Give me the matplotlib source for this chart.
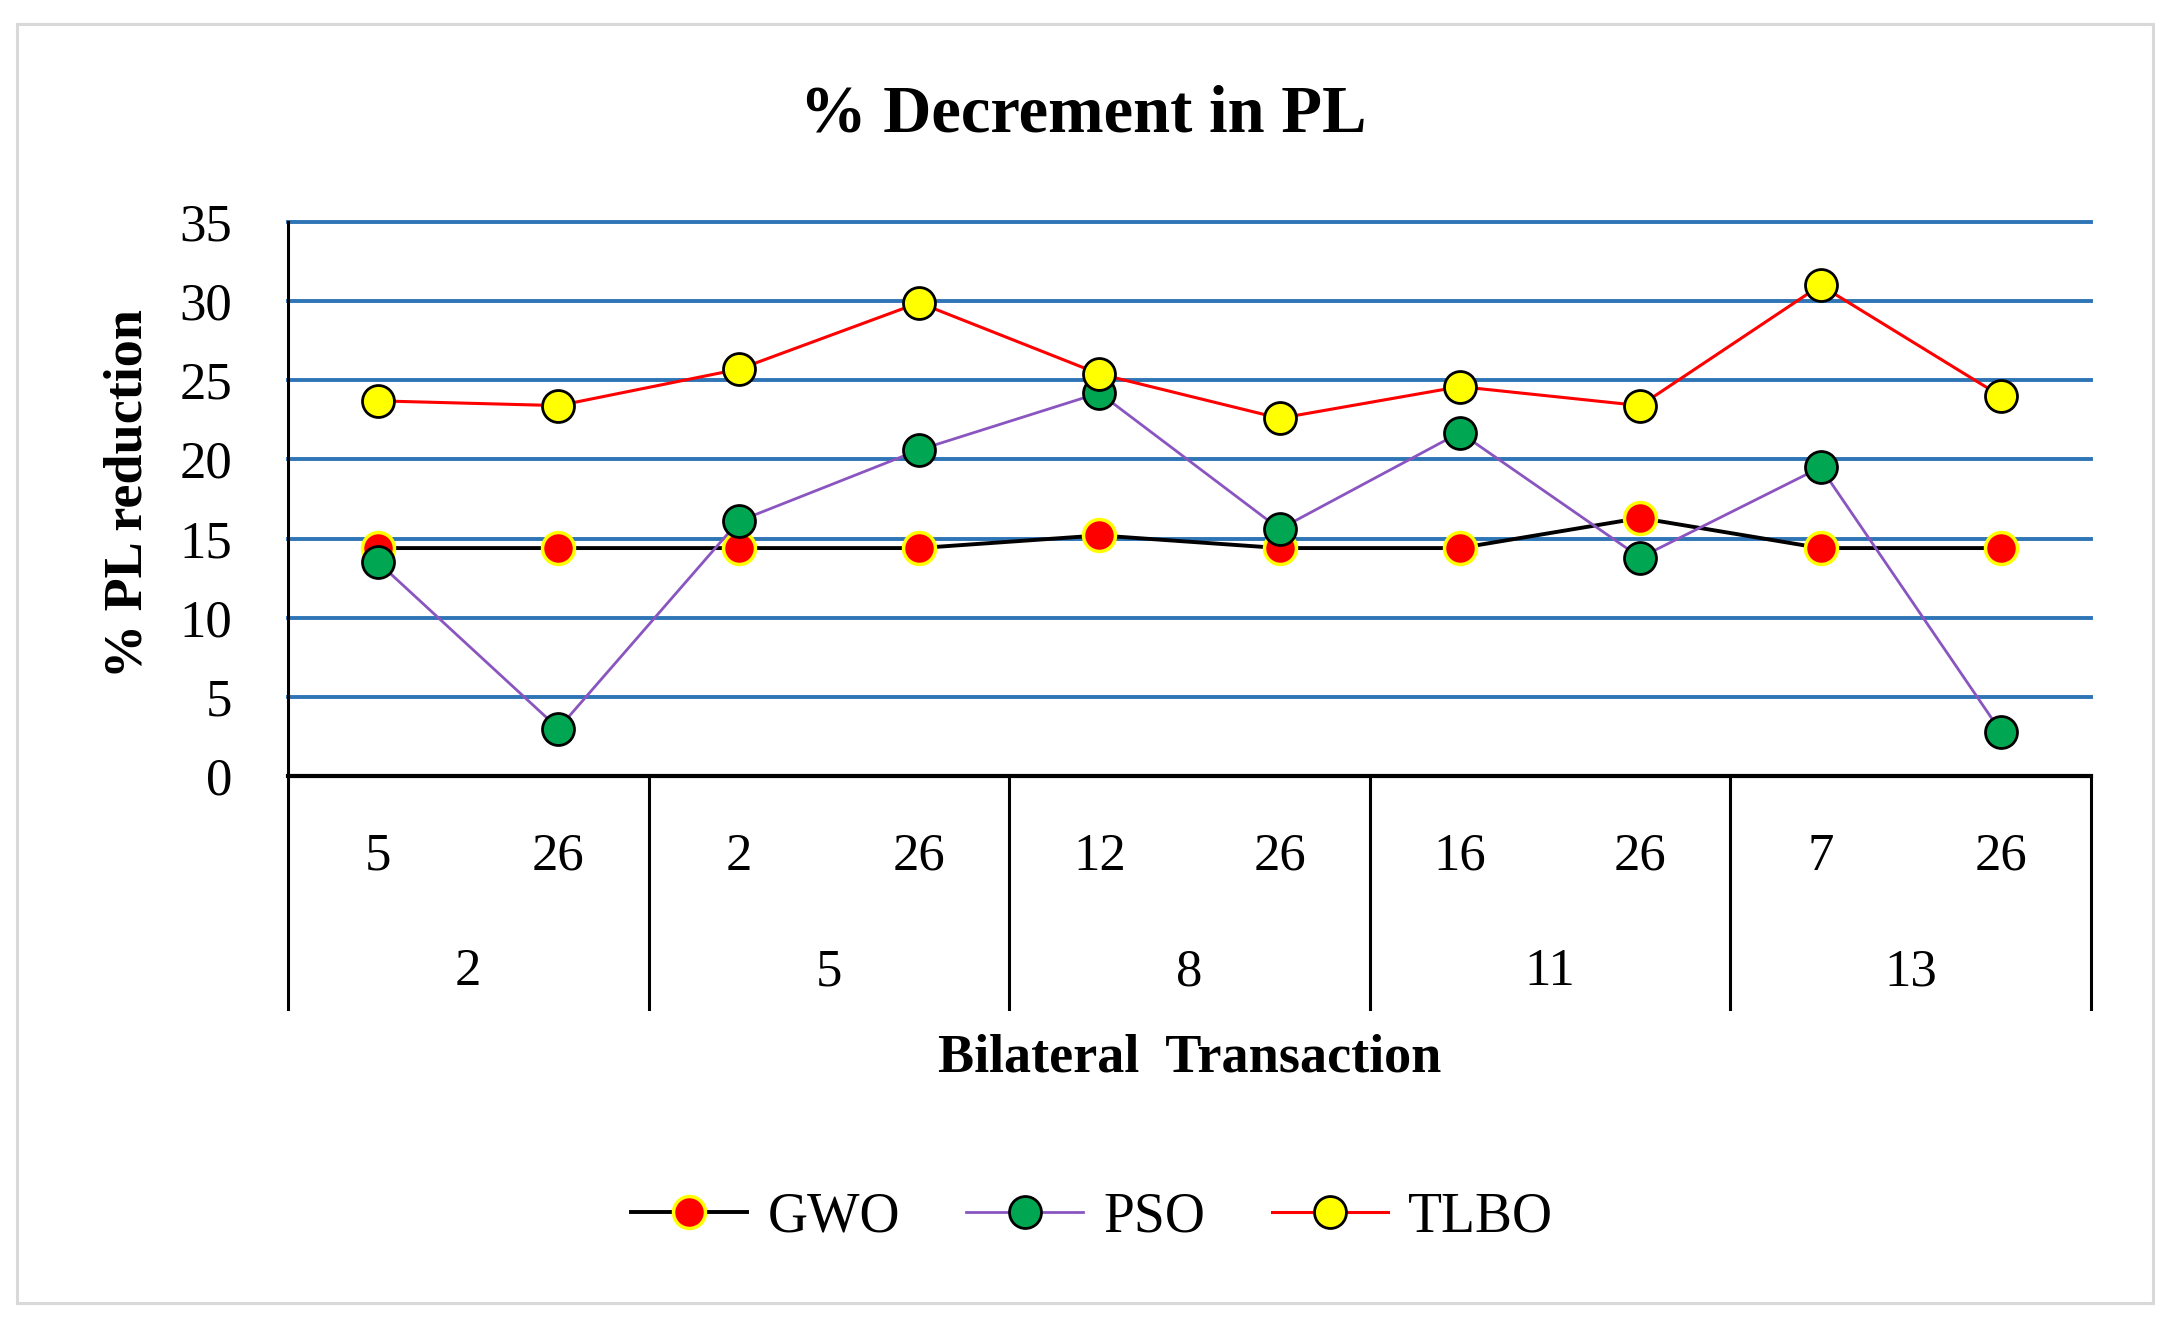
import matplotlib
matplotlib.use('Agg')
import matplotlib.pyplot as plt
from matplotlib.lines import Line2D
from matplotlib.patches import Rectangle

# ---- data ----
outer_groups = ['2', '5', '8', '11', '13']
inner_labels = ['5', '26', '2', '26', '12', '26', '16', '26', '7', '26']
gwo = [14.4, 14.4, 14.4, 14.4, 15.2, 14.4, 14.4, 16.3, 14.4, 14.4]
pso = [13.5, 3.0, 16.1, 20.6, 24.2, 15.6, 21.7, 13.8, 19.5, 2.8]
tlbo = [23.7, 23.4, 25.7, 29.9, 25.4, 22.6, 24.6, 23.4, 31.0, 24.0]
yticks = [0, 5, 10, 15, 20, 25, 30, 35]
series_names = ['GWO', 'PSO', 'TLBO']

plt.rcParams['font.family'] = ['Liberation Serif', 'DejaVu Serif']

W, H = 2174, 1330
fig = plt.figure(figsize=(W / 100, H / 100), dpi=100)
fig.patch.set_facecolor('white')

L, R, T, B = 288, 2091, 222, 776
ax = fig.add_axes([L / W, 1 - B / H, (R - L) / W, (B - T) / H])

x = list(range(len(inner_labels)))
ax.plot(x, gwo, color='black', lw=2.8, marker='o', ms=23,
        mfc='#FF0000', mec='#FFFF00', mew=2.5, zorder=3, label=series_names[0])
ax.plot(x, pso, color='#8A55C0', lw=2.0, marker='o', ms=23,
        mfc='#00A651', mec='black', mew=2.0, zorder=4, label=series_names[1])
ax.plot(x, tlbo, color='#FF0000', lw=2.2, marker='o', ms=23,
        mfc='#FFFF00', mec='black', mew=2.0, zorder=5, label=series_names[2])

ax.set_xlim(-0.5, len(inner_labels) - 0.5)
ax.set_ylim(0, 35)
ax.set_yticks(yticks)
ax.set_yticklabels([str(v) for v in yticks], fontsize=38)
ax.tick_params(axis='y', length=0, pad=40)
ax.set_xticks([])
ax.grid(axis='y', color='#2E75B6', lw=2.8, zorder=1)
ax.set_axisbelow(True)
for gl in ax.get_ygridlines():
    gl.set_clip_on(False)

for s in ['top', 'right']:
    ax.spines[s].set_visible(False)
ax.spines['left'].set_linewidth(2.2)
ax.spines['bottom'].set_linewidth(3.0)
ax.spines['bottom'].set_zorder(2.5)

tr = ax.get_xaxis_transform()
h_ax = B - T
y_inner = (B - 857) / h_ax
y_outer = (B - 972) / h_ax
y_sep = (B - 1009) / h_ax
for i, lab in enumerate(inner_labels):
    ax.text(i, y_inner, lab, transform=tr, ha='center', va='center', fontsize=38)
for g, lab in enumerate(outer_groups):
    ax.text(2 * g + 0.5, y_outer, lab, transform=tr, ha='center', va='center', fontsize=38)
for k in range(len(outer_groups) + 1):
    xs = 2 * k - 0.5
    ax.add_line(Line2D([xs, xs], [0, y_sep], transform=tr, color='black',
                       lw=2.2, clip_on=False))

ax.set_xlabel('Bilateral  Transaction', fontsize=39, fontweight='bold', va='center')
ax.xaxis.set_label_coords(0.5, (B - 1058) / h_ax)
ax.set_ylabel('% PL reduction', fontsize=39, fontweight='bold', va='center')
ax.yaxis.set_label_coords((128 - L) / (R - L), (B - 494) / h_ax)

fig.text(1083 / W, 1 - 115 / H, '% Decrement in PL', ha='center', va='center',
         fontsize=48, fontweight='bold')

fig.legend(loc='center', bbox_to_anchor=(1092 / W, 1 - 1217 / H), ncol=3,
           frameon=False, fontsize=40, handlelength=2.1, handletextpad=0.36,
           columnspacing=1.2, numpoints=1)

fig.patches.append(Rectangle((17 / W, 1 - 1303 / H), (2153 - 17) / W, (1303 - 24) / H,
                             transform=fig.transFigure, fill=False,
                             ec='#D9D9D9', lw=2.2))

fig.savefig('out.png', dpi=100)
